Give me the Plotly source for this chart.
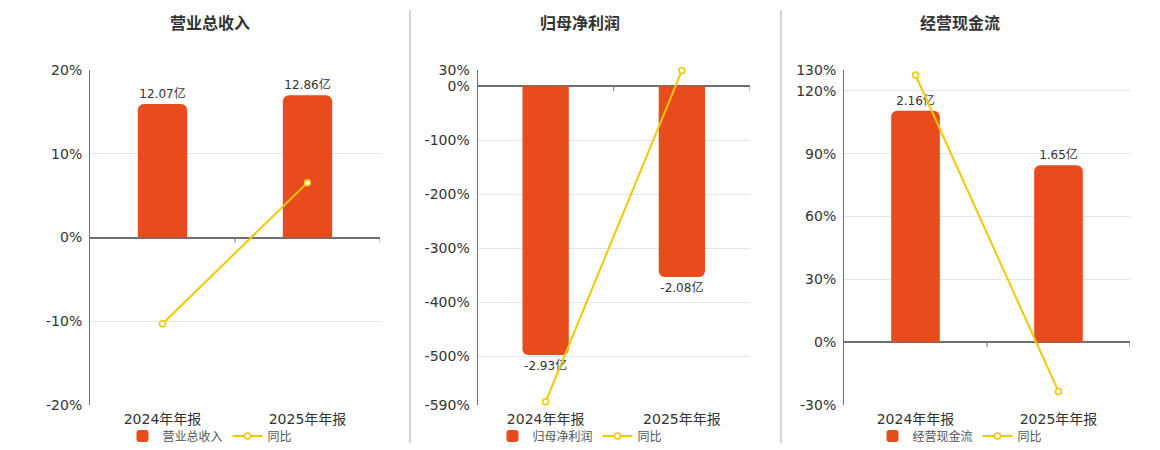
import plotly.graph_objects as go

categories = ["2024年年报", "2025年年报"]
titles = ["营业总收入", "归母净利润", "经营现金流"]

revenue = [12.07, 12.86]
revenue_yoy = [-10.3, 6.55]
profit = [-2.93, -2.08]
profit_yoy = [-584.0, 29.0]
cashflow = [2.16, 1.65]
cashflow_yoy = [127.6, -23.6]

bar_values = [revenue, profit, cashflow]
yoy_values = [revenue_yoy, profit_yoy, cashflow_yoy]

pct_ranges = [[-20, 20], [-590, 30], [-30, 130]]
pct_ticks = [[-20, -10, 0, 10, 20], [-590, -500, -400, -300, -200, -100, 0, 30],
             [-30, 0, 30, 60, 90, 120, 130]]
bar_ranges = [[-15.13, 15.13], [-3.475, 0.175], [-0.587, 2.54]]

BAR_COLOR = "#E84B1C"
LINE_COLOR = "#F2C800"
AXIS_COLOR = "#6E7079"
GRID_COLOR = "#E0E6F1"
FONT = "DejaVu Sans, Noto Sans CJK SC, sans-serif"

W, H = 1160, 450
x_domains = [[90 / W, 380 / W], [477.5 / W, 750 / W], [844 / W, 1130 / W]]
y_domain = [1 - 405 / H, 1 - 70 / H]
title_x = [210 / W, 580 / W, 960 / W]

fig = go.Figure()
layout = dict(
    width=W, height=H, margin=dict(l=0, r=0, t=0, b=0, autoexpand=False),
    paper_bgcolor="white", plot_bgcolor="white",
    font=dict(family=FONT, color="#333"),
    showlegend=True,
)

shapes = []
annotations = []
for i in range(3):
    n = i + 1
    xa = "x" if n == 1 else f"x{n}"
    yb = "y" if n == 1 else f"y{n}"      # base axis: bars (hidden)
    yp = f"y{n + 3}"                      # overlay axis: percent (visible, on top)
    leg = "legend" if n == 1 else f"legend{n}"

    fig.add_trace(go.Bar(
        x=categories, y=bar_values[i], xaxis=xa, yaxis=yb,
        name=titles[i], legend=leg,
        marker=dict(color=BAR_COLOR, cornerradius=6, line=dict(width=0)),
        text=[f"{v:.2f}亿" for v in bar_values[i]],
        textposition="outside", cliponaxis=False,
        textfont=dict(size=12, color="#333", family=FONT),
        width=0.34,
    ))
    fig.add_trace(go.Scatter(
        x=categories, y=yoy_values[i], xaxis=xa, yaxis=yp,
        name="同比", legend=leg, mode="lines+markers",
        line=dict(color=LINE_COLOR, width=2),
        marker=dict(symbol="circle", size=6, color="white",
                    line=dict(color=LINE_COLOR, width=1.5)),
        cliponaxis=False,
    ))

    xkey = "xaxis" if n == 1 else f"xaxis{n}"
    ykey = "yaxis" if n == 1 else f"yaxis{n}"
    layout[xkey] = dict(
        domain=x_domains[i], anchor=yb, type="category", automargin=False,
        range=[-0.5, 1.5], showline=False, showgrid=False, ticks="",
        tickfont=dict(size=14, color="#333", family=FONT), ticklabelstandoff=4,
    )
    layout[ykey] = dict(
        domain=y_domain, anchor=xa, range=bar_ranges[i], visible=False,
        showgrid=False, zeroline=False, automargin=False,
    )
    layout[f"yaxis{n + 3}"] = dict(
        overlaying=yb, anchor=xa, side="left", range=pct_ranges[i], automargin=False,
        tickvals=pct_ticks[i], ticktext=[f"{v}%" for v in pct_ticks[i]],
        showline=True, linecolor=AXIS_COLOR, linewidth=1,
        showgrid=True, gridcolor=GRID_COLOR, gridwidth=1,
        zeroline=True, zerolinecolor=AXIS_COLOR, zerolinewidth=2,
        tickfont=dict(size=14, color="#333", family=FONT), ticks="",
        ticklabelstandoff=4,
    )
    layout[leg] = dict(
        orientation="h", x=title_x[i], xanchor="center", y=1 - 436 / H, yanchor="middle",
        font=dict(size=12, color="#555", family=FONT), bgcolor="rgba(0,0,0,0)",
        tracegroupgap=0, itemwidth=30,
    )
    # small tick marks on the category axis at boundaries
    for b in [0.5, 1.5]:
        shapes.append(dict(type="line", xref=xa, yref=yp, x0=b, x1=b,
                           ysizemode="pixel", yanchor=0, y0=0, y1=-5,
                           line=dict(color=AXIS_COLOR, width=1)))
    annotations.append(dict(
        text=f"<b>{titles[i]}</b>", x=title_x[i], y=1 - 22 / H,
        xref="paper", yref="paper", showarrow=False, xanchor="center", yanchor="middle",
        font=dict(size=16, color="#333", family="Noto Sans CJK SC"),
    ))

for sx in [410, 781]:
    shapes.append(dict(type="line", xref="paper", yref="paper",
                       x0=sx / W, x1=sx / W, y0=1 - 443 / H, y1=1 - 10 / H,
                       line=dict(color="#AAAAAA", width=1)))

layout["shapes"] = shapes
layout["annotations"] = annotations
fig.update_layout(**layout)
fig.write_html("out.html", config={"displayModeBar": False},
               post_script="document.body.style.margin='0';document.body.style.overflow='hidden';")
